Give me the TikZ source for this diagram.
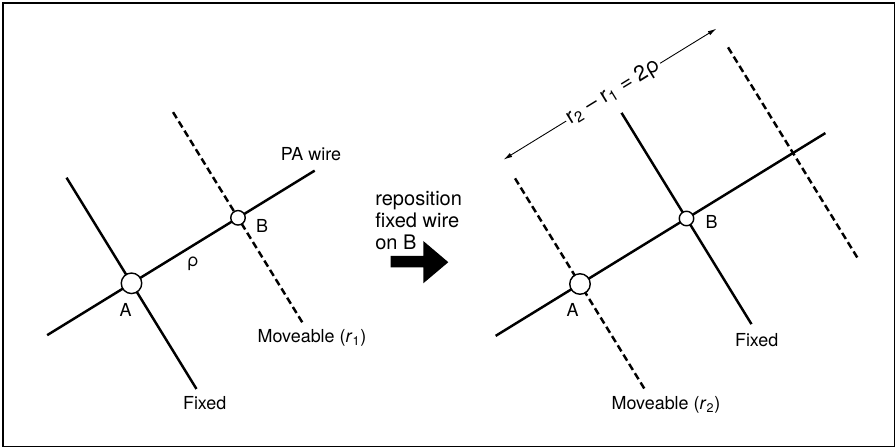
\documentclass[tikz,border=0pt]{standalone}
\usepackage{fontspec}
\setmainfont{TeX Gyre Heros}
\usetikzlibrary{calc,arrows.meta}

\begin{document}
\begin{tikzpicture}[
  x=0.02cm, y=-0.02cm,
  font=\fontsize{10.2}{12.5}\selectfont,
  wire/.style={line width=1.4pt},
  mov/.style={line width=1.4pt, dash pattern=on 4pt off 2.2pt},
  joint/.style={circle, draw, line width=0.8pt, fill=white, inner sep=0pt},
  dim/.style={{Latex[length=5pt,width=2.6pt]}-{Latex[length=5pt,width=2.6pt]}, line width=0.5pt},
  lbl/.style={inner sep=0pt}
]
\useasboundingbox (0,0) rectangle (896,448);
\draw[line width=0.8pt] (3,3) rectangle (894.5,446.5);

% directions along and across the PA wire
\coordinate (u) at (0.852,-0.524);
\coordinate (v) at (0.524,0.852);

% Left panel: before repositioning
\coordinate (A1) at (131.5,283.3);
\coordinate (B1) at ($(A1)+125*(u)$);
\coordinate (w1s) at ($(A1)-99*(u)$);
\coordinate (w1e) at ($(A1)+215*(u)$);
\coordinate (f1s) at ($(A1)-124*(v)$);
\coordinate (f1e) at ($(A1)+124*(v)$);
\coordinate (m1s) at ($(B1)-124*(v)$);
\coordinate (m1e) at ($(B1)+124*(v)$);

\draw[wire] (w1s) -- (w1e);
\draw[wire] (f1s) -- (f1e);
\draw[mov] (m1s) -- (m1e);
\node[joint, minimum size=0.41cm] (pA1) at (A1) {};
\node[joint, minimum size=0.29cm] (pB1) at (B1) {};

\node[lbl] (pa)  at (311,154) {PA wire};
\node[lbl] (lB1) at (262,226) {B};
\node[lbl] (lA1) at (125.5,309.5) {A};
\node[lbl] (rho) at (193,264) {ρ};
\node[lbl] (mv1) at (312,338) {Moveable (\textit{r}\textsubscript{1})};
\node[lbl] (fx1) at (204.7,403) {Fixed};

% Middle: the move
\node[lbl, align=left, anchor=north west, font=\fontsize{11.4}{12.5}\selectfont]
  (note) at (375,191) {reposition\\fixed wire\\on B};
\fill (390.7,256) -- (423.3,256) -- (423.3,241) -- (448.3,262.2)
  -- (423.3,283.3) -- (423.3,267.3) -- (390.7,267.3) -- cycle;

% Right panel: after repositioning
\coordinate (A2) at (580,284);
\coordinate (B2) at ($(A2)+125*(u)$);
\coordinate (C2) at ($(A2)+250*(u)$);
\coordinate (w2s) at ($(A2)-99*(u)$);
\coordinate (w2e) at ($(A2)+288*(u)$);
\coordinate (m2s) at ($(A2)-124*(v)$);
\coordinate (m2e) at ($(A2)+124*(v)$);
\coordinate (f2s) at ($(B2)-124*(v)$);
\coordinate (f2e) at ($(B2)+124*(v)$);
\coordinate (n2s) at ($(C2)-124*(v)$);
\coordinate (n2e) at ($(C2)+124*(v)$);
\coordinate (d2s) at ($(A2)-146*(v)$);
\coordinate (d2e) at ($(C2)-146*(v)$);

\draw[wire] (w2s) -- (w2e);
\draw[wire] (f2s) -- (f2e);
\draw[mov] (m2s) -- (m2e);
\draw[mov] (n2s) -- (n2e);
\node[joint, minimum size=0.41cm] (pA2) at (A2) {};
\node[joint, minimum size=0.29cm] (pB2) at (B2) {};

\draw[dim] (d2s) -- node[sloped, fill=white, inner sep=1pt, pos=0.515,
  font=\fontsize{12.2}{14}\selectfont] (gap)
  {r\textsubscript{2} – r\textsubscript{1} = 2ρ} (d2e);

\node[lbl] (lB2) at (711.7,222) {B};
\node[lbl] (lA2) at (572.7,310) {A};
\node[lbl] (fx2) at (756.7,340) {Fixed};
\node[lbl] (mv2) at (666,405) {Moveable (\textit{r}\textsubscript{2})};

\end{tikzpicture}
\end{document}
